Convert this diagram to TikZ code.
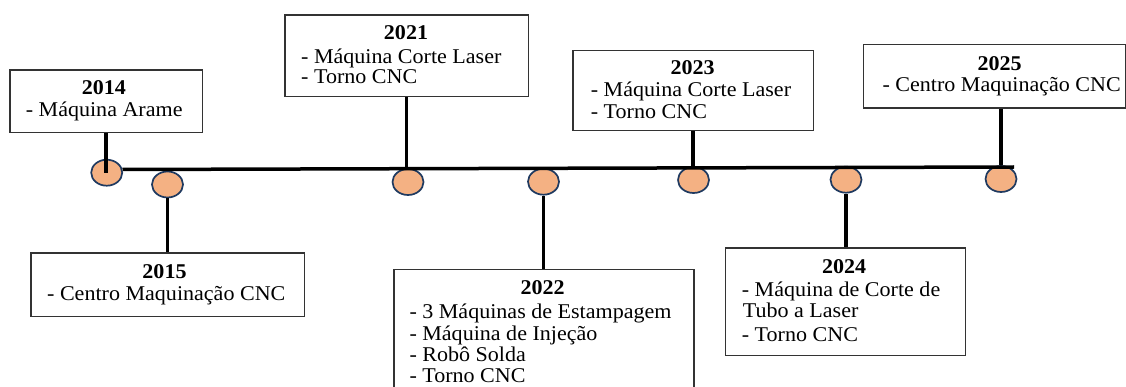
\documentclass[tikz,border=0pt]{standalone}
\usepackage{fontspec}
\setmainfont{Liberation Serif}[FakeStretch=1.05]
\usetikzlibrary{shapes.geometric}
\definecolor{peach}{HTML}{F4B183}
\definecolor{navy}{HTML}{1F3A60}
\definecolor{boxgray}{HTML}{333333}
\tikzset{
  box/.style={draw=boxgray, line width=1.3pt, fill=white, inner sep=0pt, anchor=north west, rectangle},
  dot/.style={ellipse, draw=navy, line width=1.7pt, fill=peach, minimum width=31pt, minimum height=26pt, inner sep=0pt},
  conn/.style={line width=3.5pt, black},
  yr/.style={anchor=base, inner sep=0pt, font=\fontsize{21}{22}\selectfont\bfseries},
  itm/.style={anchor=base west, inner sep=0pt, font=\fontsize{21}{22}\selectfont},
  ctr/.style={anchor=base, inner sep=0pt, font=\fontsize{21}{22}\selectfont},
}
\begin{document}
\begin{tikzpicture}[x=1pt,y=1pt]
\clip (0,0) rectangle (1126,-387);
\fill[white] (0,0) rectangle (1126,-387);
% boxes
\node[box, minimum width=192.4pt, minimum height=62.4pt] (b2014) at (9.3,-69.3) {};
\node[box, minimum width=243.4pt, minimum height=81.7pt] (b2021) at (284.3,-14.3) {};
\node[box, minimum width=240.4pt, minimum height=80pt] (b2023) at (572.3,-50) {};
\node[box, minimum width=262.3pt, minimum height=63.3pt] (b2025) at (862.7,-44) {};
\node[box, minimum width=273.4pt, minimum height=63.7pt] (b2015) at (30.3,-252.3) {};
\node[box, minimum width=300pt, minimum height=140pt] (b2022) at (393.3,-269) {};
\node[box, minimum width=240pt, minimum height=107.4pt] (b2024) at (725,-247.3) {};
% circles
\node[dot] (c1) at (106.7,-172.7) {};
\node[dot] (c2) at (167.5,-184.5) {};
\node[dot] (c3) at (408,-182) {};
\node[dot] (c4) at (543.5,-181.7) {};
\node[dot] (c5) at (693.5,-180) {};
\node[dot] (c6) at (846,-179.7) {};
\node[dot] (c7) at (1001,-179) {};
% timeline
\coordinate (tlstart) at (122.5,-169.5);
\coordinate (tlend) at (1014,-167);
\draw[conn] (tlstart) -- (tlend);
% connectors
\draw[conn] (b2014.south) -- (b2014.south |- c1.center);
\draw[conn] (b2021.south) -- (b2021.south |- c3.north);
\draw[conn] (b2023.south) -- (b2023.south |- c5.north);
\draw[conn] (c7.north |- b2025.south) -- (c7.north);
\draw[conn] (c2.south) -- (c2.south |- b2015.north);
\draw[conn] (c4.south) -- (c4.south |- b2022.north);
\draw[conn] (c6.south) -- (c6.south |- b2024.north);
% texts 2014
\node[yr] (t14y) at (103.8,-94.3) {2014};
\node[ctr] (t14a) at (104.2,-116.7) {- Máquina Arame};
% 2015
\node[yr] (t15y) at (164.5,-278.3) {2015};
\node[ctr] (t15a) at (166.3,-300) {- Centro Maquinação CNC};
% 2021
\node[yr] (t21y) at (406,-40) {2021};
\node[itm] (t21a) at (301,-63.3) {- Máquina Corte Laser};
\node[itm] (t21b) at (301,-83.3) {- Torno CNC};
% 2023
\node[yr] (t23y) at (692.7,-75) {2023};
\node[itm] (t23a) at (590.7,-96.7) {- Máquina Corte Laser};
\node[itm] (t23b) at (590.7,-118.3) {- Torno CNC};
% 2025
\node[yr] (t25y) at (999.7,-70.7) {2025};
\node[ctr] (t25a) at (1001.7,-91.7) {- Centro Maquinação CNC};
% 2022
\node[yr] (t22y) at (542.7,-294.3) {2022};
\node[itm] (t22a) at (409.3,-318.3) {- 3 Máquinas de Estampagem};
\node[itm] (t22b) at (409.3,-340) {- Máquina de Injeção};
\node[itm] (t22c) at (409.3,-361) {- Robô Solda};
\node[itm] (t22d) at (409.3,-382.7) {- Torno CNC};
% 2024
\node[yr] (t24y) at (844.2,-273.3) {2024};
\node[itm] (t24a) at (741.7,-296) {- Máquina de Corte de};
\node[itm] (t24b) at (742.7,-317.7) {Tubo a Laser};
\node[itm] (t24c) at (741.7,-341.7) {- Torno CNC};
\end{tikzpicture}
\end{document}
